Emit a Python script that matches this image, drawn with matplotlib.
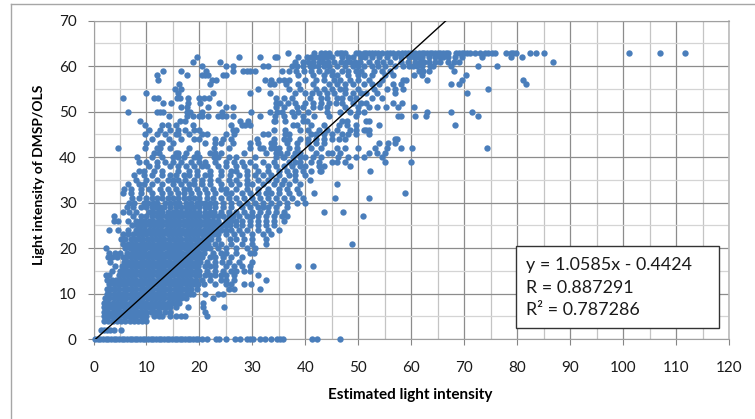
import matplotlib
matplotlib.use("Agg")
import matplotlib.pyplot as plt
from matplotlib.lines import Line2D
from matplotlib.patches import Rectangle

plt.rcParams['font.family'] = ['Lato', 'DejaVu Sans']

x_at_63 = [36.8,41.7,43,43.7,44.5,46,46.5,47,47.5,49.5,50.2,51,51.5,52,52.5,53.2,53.8,54.5,55.5,56,56.5,57.5,58.2,58.8,59.3,60,60.8,61.5,62,62.5,63,63.5,64,64.5,65,65.5,66,66.5,67,68.5,69,69.5,70,70.5,71,72,73,74,74.5,75.3,75.8,77.8,78.8,79.3,79.8,82.5,83.5,85,101.2,107,111.7]
x_at_62 = [19.5,27.5,31.5,34.2,34.7,38.6,40.4,41,41.8,42.5,43.3,44,45,47,48,49,50.5,51.3,52.5,54,55.5,57,58,59.5,60.5,61.3,62,63.3,64.5,65.5,66,67,68.3,69.5,73.3,78.9,80.9]
x_at_61 = [18.8,23.8,38,39.6,40.5,41.5,42.5,43.3,44.2,45.5,46.8,47.7,48.5,49.3,50.3,52,53.5,54.6,56,58,59.3,60.8,61.7,62.5,63.4,64.5,65.5,67,68,69,86.8]
x_at_60 = [20.4,25,26.4,32,33,37.5,38.5,39.5,40.8,41.5,42.3,43.5,44.5,46,47.5,49,50,51,52.5,53.8,55,57,58.5,59.5,60.3,61,62,63.5,64.2,67.6,72.6,76.2]
x_at_59 = [13.2,16.5,21.2,26.4,28.3,29,29.5,30.5,35.6,37,38.3,39.7,41,42.5,44,45,47,48,49.5,50.5,53,54.5,56,61.5,62.3,63.4,68]
x_at_58 = [12,17.7,20.4,21,21.7,24.5,25,38.6,41.5,43.5,45,46,48,50,51,52.5,55,56.5,60.5,62,70.3]
x_at_57 = [12.2,22.3,23.2,32.4,33.6,35,36,37,40,42,43.5,45.5,46.5,48.5,50,52,54.5,58.5,59,63,69.5,81.1]
x_at_56 = [16.2,22,33.3,34,36.4,38.6,41.5,44.5,46,47.5,49,51,52.5,54,56.5,58,67.5,69,81.7]
x_at_55 = [15.4,16.6,31,36.9,39,42,43.5,45,46.5,47.5,50,53,55.5,57,58.5,74.5]
x_at_54 = [10,16,22.6,29.5,33.3,38,40,41.3,42.5,44,45.5,47.5,49,50.5,51.5,53.5,57,70.5]
x_at_53 = [5.6,11.4,12.2,15.7,16.3,17.9,20,20.8,21.8,34.5,36,37.5,40.8,43,44,46,47,48.5,49.5,52.5,54.5]
x_at_52 = [13.2,14.6,17.9,20.2,23.7,34.5,35.2,36.7,38,40,41.5,43,44.5,45.7,47,49,50.5,51.5,56.5,58.3]
x_at_51 = [16.5,17.7,21.7,25,26.4,34.5,36,38.4,39.5,41.5,42.8,44,47.5,50,52,53.5,55.3,57.5,60.5]
x_at_50 = [6.6,12,12.5,13.2,17.7,18.3,20.5,24.2,29.8,33.3,34.7,35.5,37.5,38.7,40.5,44,46.5,48.5,50,51,63,67.5,71.4]
x_at_49 = [14.2,17.7,18.8,19.9,20.5,21.7,23.5,24.3,25,26.4,31.5,34.2,36,37.8,39.5,41.7,44.5,49.5,57.5,58,60.7,62.8,72.6]
x_at_48 = [8.8,16.3,17.3,27.6,29.2,34,34.2,36.1,39.6,40.3,47,47.8,51.5,52]
x_at_47 = [9.7,13,14,15.6,18.8,26,28,28.6,29.5,37.7,38.5,41,43.5,46.3,47.8,49.5,54,68.3]
x_at_46 = [10.5,12.5,14.5,16,17.3,19,20,26.3,27,34.1,36.2,39,40.5,42.5,44,46,48.5,49.5,51,51.5,52]
x_at_45 = [9.7,12,13.5,15.5,16,18,20.5,21.5,25,26.5,32,33,36.2,37,41,42,43.5,45,47,48,49.5,52]
x_at_44 = [11,14.2,16.5,19,20,23,24.5,26,30.9,34,36,37,38.9,40.5,42,43.5,45,46.3,47.5,56.9,57.3]
x_at_43 = [10,12.5,13,15,21,23,24,26.3,29.5,31,33.6,34,36.5,38.5,40.5,42,43.5,54,55.6,57]
x_at_42 = [4.7,9.7,12,12.5,14.5,18,22.7,25.5,29.5,31.5,32,33.5,34.3,35,37,38.5,41,43,46,47.5,50,53.2,55.5,58,60.2,74.3]
x_at_41 = [11.5,12.3,15.5,16,17.5,19.5,22,23,24,28.5,32.5,34.5,35.2,36.5,38,39,42,44.3,45,46.5,52,53.5,55]
x_at_40 = [8.3,11,13,15,16,17,19,19.5,20,22.7,23.5,25.5,27,30.5,34.5,35.8,36,37.7,39,40,41.5,43,46.2,48,49.5,51,54.5]
x_at_39 = [8.5,10,12,13.5,15,16.5,18.5,20,21,23,25,26.5,28,29.5,32,34,37,38,39,41,42.5,45,46,47.5,55,59.9]
x_at_38 = [10.5,12,14.5,16,17.5,19,20.5,21.5,23.5,25,27,28.5,30.5,33,34.5,36,37.5,39,40,42.5,43.5,48.4]
x_at_37 = [8.5,9.5,11.5,13,16,18,19.5,22,24,26,27,29,31,33,35,36.5,38,39.5,41,42.7,43,52.2]
x_at_36 = [7.7,9.5,11,13,14.5,15.5,17,18,19.5,21,22,24,25.7,27.5,29,30.5,32,33.5,35,37,38,40]
x_at_35 = [8,10,12,14,15,16,17.2,19,20.5,22,23.5,25.5,27,29,31,33,34.5,36,38,40.8]
x_at_34 = [6.5,8.5,9.5,11,13,15,16.5,18,19,20.5,22,24,26,27.5,29,30,32,34,35.5,37,39,45.9]
x_at_33 = [5.8,7,9,10.5,12.5,14,15.5,17,18,19.5,21,22.5,24,25,27,29,31,33,35,36.5,38.5]
x_at_32 = [5.5,7,9,11,13,14.5,16,17,18.5,20,21.5,23,25,26,28,29.5,31,32.5,33.5,35,37,38.8,41.7,58.8]
x_at_31 = [7.3,8.5,10,11,12,13,14,15,16,17,18,19,20,21.5,22.5,24,25.5,27,28.5,30,31.5,33,34.5,36,37.5,39.5,45.6,52]
x_at_30 = [6.7,7.7,9.5,10.3,11.2,12,13.5,14.5,15.4,16.2,17.5,18.5,19.5,20.3,21,22,23,24.5,26,27.5,29,30.5,32,33.5,35,36.5,38.5,40]
x_at_29 = [6.3,7.5,9,10,11,11.8,12.6,13.4,14.5,15.5,16.5,17.4,18.2,19,20,21,21.8,23,24.5,26,28,29.5,31,32,33,34.5,36.5]
x_at_28 = [5.6,6.7,8,10.5,11.3,12.2,13,14,15,15.8,16.6,17.4,18.2,19,20,21,22,22.8,24,25.5,27,28.5,30,31.5,33,34.5,36,43.5,47.1]
x_at_27 = [3.8,7.5,9,10,11,12,12.8,13.6,14.4,15.2,16,16.8,17.6,18.4,19.2,20,20.8,21.6,22.5,23.5,24.5,25.5,26.3,27.5,29,30,31,32.5,34,35.5,36.5,50.8]
x_at_26 = [3.9,4.7,6.5,8,8.8,9.6,10.5,11.3,12.2,13,13.8,14.6,15.4,16.2,17,17.8,18.6,19.4,20.2,21,21.8,22.6,23.5,25,26,27,28,29.5,31,32.5,34,36]
x_at_25 = [7.3,8.2,9,9.8,10.6,11.4,12.2,13,13.8,14.6,15.4,16.2,17,17.8,18.6,19.4,20.2,21,21.8,22.6,23.4,24.2,25,25.8,27,28,29.5,31,32.5,34]
x_at_24 = [3,4.7,6.5,8,8.8,9.6,10.4,11.2,12,12.8,13.6,14.4,15.2,16,16.8,17.6,18.4,19.2,20,20.8,21.6,22.4,23.2,24,25,26,27.5,29,31,33,35]
x_at_23 = [5.5,6.5,7.5,8.4,9.2,10,10.8,11.6,12.4,13.2,14,14.8,15.6,16.4,17.2,18,18.8,19.6,20.4,21.2,22,22.8,23.6,25,26.5,28,30,32,33.5]
x_at_22 = [5.2,6,7,7.8,8.6,9.4,10.2,11,11.8,12.6,13.4,14.2,15,15.8,16.6,17.4,18.2,19,19.8,20.6,21.4,22.2,23.5,25.8,27,28.5,30,32.5]
x_at_21 = [5.5,6.5,7.3,8.1,8.9,9.7,10.5,11.3,12.1,12.9,13.7,14.5,15.3,16.1,16.9,17.7,18.5,19.3,20.1,20.9,21.7,23,24,26,28,30,32.5,48.8]
x_at_20 = [2.3,6,6.8,7.6,8.4,9.2,10,10.8,11.6,12.4,13.2,14,14.8,15.6,16.4,17.2,18,18.8,19.6,20.4,21.2,22,23.5,25,27,29,30.5]
x_at_19 = [3,4,5,6.4,7.2,8,8.8,9.6,10.4,11.2,12,12.8,13.6,14.4,15.2,16,16.8,17.6,18.4,19.2,20,20.8,22.5,24,25,27,29.5,30.3]
x_at_18 = [2.7,3.5,4.5,5.5,6.2,7,7.8,8.6,9.4,10.2,11,11.8,12.6,13.4,14.2,15,15.8,16.6,17.4,18.2,19,19.8,20.5,22,23,24.5,26,28]
x_at_17 = [3.2,5.8,6.5,7.3,8.1,8.9,9.7,10.5,11.3,12.1,12.9,13.7,14.5,15.3,16.1,16.9,17.7,18.5,19.3,20.1,21.5,23,24.3,25.5,27.5,30]
x_at_16 = [4,5.4,6.2,7,7.8,8.6,9.4,10.2,11,11.8,12.6,13.4,14.2,15,15.8,16.6,17.4,18.2,19,19.8,21,22,23,25,26.5,28,29.5,38.6,41.5]
x_at_15 = [3.5,5,5.7,6.5,7.3,8.1,8.9,9.7,10.5,11.3,12.1,12.9,13.7,14.5,15.3,16.1,16.9,17.7,18.5,19.3,20,21.5,23,24.5,26,27,28.5,29.5]
x_at_14 = [2.3,3,4.8,5.5,6.3,7.1,7.9,8.7,9.5,10.3,11.1,11.9,12.7,13.5,14.3,15.1,15.9,16.7,17.5,18.3,19.1,19.9,21,22,23,24,25,26.5,31]
x_at_13 = [2.5,3.5,4.2,5,5.7,6.5,7.3,8.1,8.9,9.7,10.5,11.3,12.1,12.9,13.7,14.5,15.3,16.1,16.9,17.7,18.5,19.3,20.5,22,24,25,26.5,32.5]
x_at_12 = [3,3.8,4.6,5.4,6.2,7,7.8,8.6,9.4,10.2,11,11.8,12.6,13.4,14.2,15,15.8,16.6,17.4,18.2,19,19.7,20.8,23,25,26,28.5,29.7]
x_at_11 = [2.5,3.3,4.1,4.9,5.7,6.5,7.3,8.1,8.9,9.7,10.5,11.3,12.1,12.9,13.7,14.5,15.3,16.1,16.9,17.7,18.5,19.5,25.5,26.5,31.5]
x_at_10 = [2.5,3,3.8,4.6,5.4,6.2,7,7.8,8.6,9.4,10.2,11,11.8,12.6,13.4,14.2,15,15.8,16.6,17.4,18.2,18.8,21,23.5,24.5]
x_at_9 = [2.2,3,3.8,4.6,5.4,6.2,7,7.8,8.6,9.4,10.2,11,11.8,12.6,13.4,14.2,15,15.8,16.6,17.4,22.5]
x_at_8 = [2,2.8,3.6,4.4,5.2,6,6.8,7.6,8.4,9.2,10,10.8,11.6,12.4,13.2,14,14.8,15.6,16.2,20.7]
x_at_7 = [2,2.5,3.3,4.1,4.9,5.7,6.5,7.3,8.1,8.9,9.7,10.5,11.3,12.1,12.9,13.7,14.5,15.5,17.9,20.7,24.6]
x_at_6 = [2,2.8,3.6,4.4,5.2,6,6.8,7.6,8.4,9.2,10,10.8,11.6,12.4,13.5,14.5,21]
x_at_5 = [2,2.5,3.3,4.1,4.9,5.7,6.5,7.3,8.1,8.9,9.7,10,11.5,12.3,13,14.5,15.5,16.5,17.3,21.4]
x_at_4 = [2,2.8,3.6,4.4,5.2,6,6.8,7.6,8.4,9.2,10]
x_at_2 = [1.4,2,2.6,3.2,3.8,5.2]
x_at_0 = [0.3,0.8,1.3,1.8,2.3,2.8,3.3,3.8,4.3,4.8,5.3,5.8,6.3,6.8,7.3,7.8,8.3,8.8,9.3,9.8,10.3,10.8,11.3,11.8,12.3,12.8,13.3,13.8,14.3,14.8,15.3,15.8,16.3,16.8,17.3,17.8,18.3,18.8,19.3,19.8,20.4,21.4,23.1,23.7,25.1,26.7,27.6,28.9,29.6,30.2,31.4,32.4,33.6,34.6,35.2,35.8,41.2,42.2,46.5]

levels = [63,62,61,60,59,58,57,56,55,54,53,52,51,50,49,48,47,46,45,44,43,42,41,40,39,38,37,36,35,34,33,32,31,30,29,28,27,26,25,24,23,22,21,20,19,18,17,16,15,14,13,12,11,10,9,8,7,6,5,4,2,0]
rows = [x_at_63,x_at_62,x_at_61,x_at_60,x_at_59,x_at_58,x_at_57,x_at_56,x_at_55,x_at_54,x_at_53,x_at_52,x_at_51,x_at_50,x_at_49,x_at_48,x_at_47,x_at_46,x_at_45,x_at_44,x_at_43,x_at_42,x_at_41,x_at_40,x_at_39,x_at_38,x_at_37,x_at_36,x_at_35,x_at_34,x_at_33,x_at_32,x_at_31,x_at_30,x_at_29,x_at_28,x_at_27,x_at_26,x_at_25,x_at_24,x_at_23,x_at_22,x_at_21,x_at_20,x_at_19,x_at_18,x_at_17,x_at_16,x_at_15,x_at_14,x_at_13,x_at_12,x_at_11,x_at_10,x_at_9,x_at_8,x_at_7,x_at_6,x_at_5,x_at_4,x_at_2,x_at_0]

slope = 1.0585
intercept = -0.4424
fit_x = [0.42, 66.55]
fit_y = [slope * v + intercept for v in fit_x]

x_ticks = [0,10,20,30,40,50,60,70,80,90,100,110,120]
y_ticks = [0,10,20,30,40,50,60,70]
x_minor = [5,15,25,35,45,55,65,75,85,95,105,115]
y_minor = [5,15,25,35,45,55,65]

W, H = 755, 419
fig = plt.figure(figsize=(W/100, H/100), dpi=100)
ax = fig.add_axes([93.5/W, 1-339/H, (729-93.5)/W, (339-20.7)/H])

xs = []
ys = []
for level, row in zip(levels, rows):
    xs += row
    ys += [level] * len(row)

ax.set_xlim(0, 120)
ax.set_ylim(0, 70)
ax.set_xticks(x_ticks)
ax.set_yticks(y_ticks)
ax.set_xticks(x_minor, minor=True)
ax.set_yticks(y_minor, minor=True)
ax.set_axisbelow(True)
ax.grid(which='major', color='#8c8c8c', lw=0.9)
ax.grid(which='minor', axis='x', color='#c4c4c4', lw=0.9)
ax.grid(which='minor', axis='y', color='#d4d4d4', lw=0.9)
ax.tick_params(which='major', length=4, width=0.8, color='#868686', labelsize=11, labelcolor='#1a1a1a')
ax.tick_params(axis='x', pad=12)
ax.tick_params(axis='y', pad=8)
ax.tick_params(which='minor', length=0)
for side in ax.spines:
    ax.spines[side].set_color('#a0a0a0')
ax.spines['right'].set_color('#bbbbbb')
ax.spines['right'].set_linewidth(1.2)

ax.scatter(xs, ys, s=21, color='#4a7ebb', linewidths=0, clip_on=False, zorder=3)
ax.plot(fit_x, fit_y, color='black', lw=1, zorder=4)

fig.text(410/W, 1-395/H, 'Estimated light intensity', ha='center', va='center', fontsize=11, fontweight='bold')
fig.text(39/W, 1-175/H, 'Light intensity of DMSP/OLS', rotation=90, ha='center', va='center', fontsize=10, fontweight='bold')

# outer chart frame, only top and left show in the crop
fig.add_artist(Line2D([11/W, 11/W], [0, 1-4/H], color='#a6a6a6', lw=1))
fig.add_artist(Line2D([11/W, 1], [1-4/H, 1-4/H], color='#a6a6a6', lw=1))

box = Rectangle((515.7/W, 1-327.7/H), 203.6/W, 82/H, transform=fig.transFigure, facecolor='white', edgecolor='#333333', lw=1, zorder=6)
fig.add_artist(box)
stats = ['y = 1.0585x - 0.4424', 'R = 0.887291', 'R² = 0.787286']
stat_y = [265, 288, 310]
for line, py in zip(stats, stat_y):
    fig.text(526/W, 1-py/H, line, ha='left', va='center', fontsize=12.9, color='#1a1a1a', zorder=7)

fig.savefig('out.png', dpi=100)
